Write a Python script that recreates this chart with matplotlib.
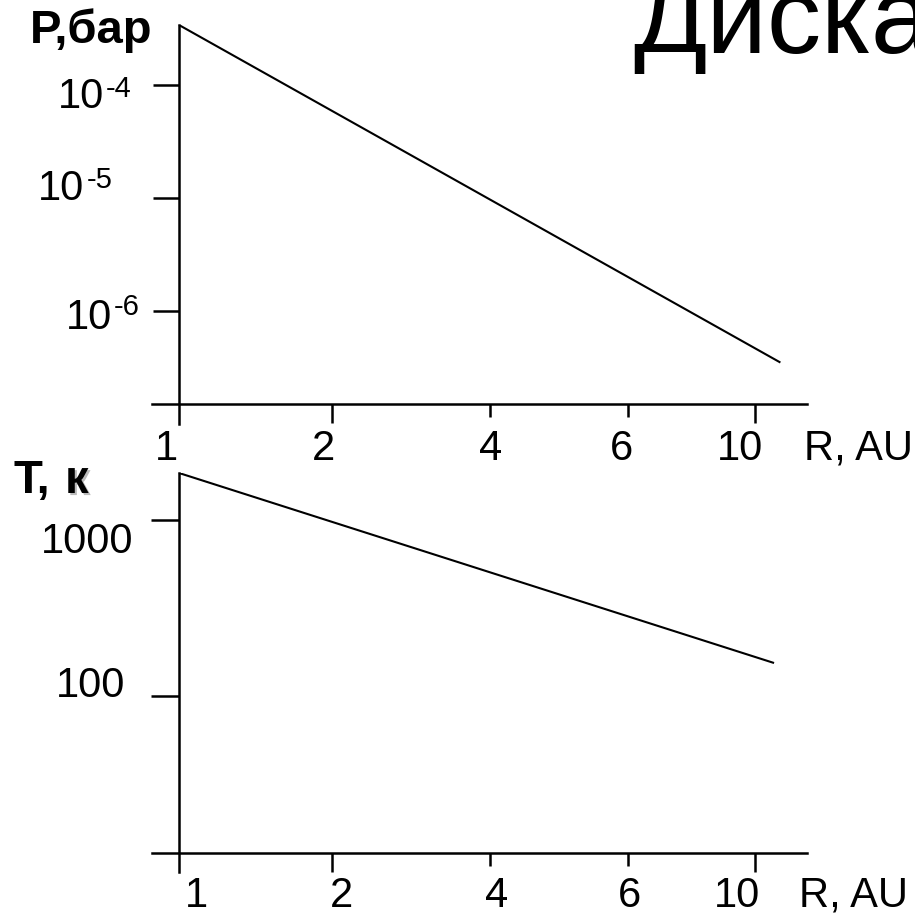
import numpy as np
import matplotlib
matplotlib.use("Agg")
import matplotlib.pyplot as plt
import matplotlib.patheffects as pe
from matplotlib.ticker import FixedLocator, NullLocator, NullFormatter

plt.rcParams['font.family'] = ['Liberation Sans', 'DejaVu Sans']

# ---- data -------------------------------------------------------------
R_TICKS = [1, 2, 4, 6, 10]
R_TICK_LABELS = ['1', '2', '4', '6', '10']

# pressure profile, bar
R_P = [1.0, 10.8]
P_BAR = [3.4e-4, 3.5e-7]
P_TICKS = [1e-4, 1e-5, 1e-6]
P_TICK_BASE = ['10', '10', '10']
P_TICK_EXP = ['-4', '-5', '-6']

# temperature profile, K
R_T = [1.0, 10.6]
T_K = [1850, 154]
T_TICKS = [1000, 100]
T_TICK_LABELS = ['1000', '100']

# ---- schematic radial axis: piecewise spacing between labelled radii ----
KNOT_R = np.array(R_TICKS, float)
KNOT_S = np.array([0, 153, 311, 449, 576], float)


def _piecewise(x, xp, fp):
    x = np.asarray(x, float)
    y = np.interp(x, xp, fp)
    lo = (fp[1] - fp[0]) / (xp[1] - xp[0])
    hi = (fp[-1] - fp[-2]) / (xp[-1] - xp[-2])
    y = np.where(x < xp[0], fp[0] + (x - xp[0]) * lo, y)
    y = np.where(x > xp[-1], fp[-1] + (x - xp[-1]) * hi, y)
    return y


def r_fwd(r):
    return _piecewise(r, KNOT_R, KNOT_S)


def r_inv(s):
    return _piecewise(s, KNOT_S, KNOT_R)


W = H = 915
fig = plt.figure(figsize=(W / 100, H / 100), dpi=100)


def px_box(left, top, right, bottom):
    return [left / W, 1 - bottom / H, (right - left) / W, (bottom - top) / H]


AX_LW = 1.8
LINE_LW = 1.5
FS = 30


def setup_panel(ax, ylim, yticks, spine_frac, ytick_len):
    ax.set_xscale('function', functions=(r_fwd, r_inv))
    ax.set_yscale('log')
    ax.set_xlim(float(r_inv(-27)), float(r_inv(628)))
    ax.set_ylim(*ylim)
    ax.patch.set_visible(False)
    for s in ('top', 'right'):
        ax.spines[s].set_visible(False)
    ax.spines['left'].set_position(('data', 1))
    ax.spines['bottom'].set_position(('axes', spine_frac))
    for s in ('left', 'bottom'):
        ax.spines[s].set_linewidth(AX_LW)
    # x ticks: long at 2 and 10, short at 4 and 6
    ax.xaxis.set_major_locator(FixedLocator([2, 10]))
    ax.xaxis.set_minor_locator(FixedLocator([4, 6]))
    ax.xaxis.set_major_formatter(NullFormatter())
    ax.xaxis.set_minor_formatter(NullFormatter())
    ax.tick_params(axis='x', which='major', direction='out', length=13.7,
                   width=AX_LW, top=False)
    ax.tick_params(axis='x', which='minor', direction='out', length=9.2,
                   width=AX_LW, top=False)
    ax.yaxis.set_major_locator(FixedLocator(yticks))
    ax.yaxis.set_minor_locator(NullLocator())
    ax.yaxis.set_major_formatter(NullFormatter())
    ax.tick_params(axis='y', which='major', direction='out', length=ytick_len,
                   width=AX_LW, right=False)


def x_labels(ax, spine_frac, offsets, dy):
    for r, lab, dx in zip(R_TICKS, R_TICK_LABELS, offsets):
        ax.annotate(lab, xy=(r, spine_frac), xycoords=('data', 'axes fraction'),
                    xytext=(dx, dy), textcoords='offset pixels',
                    ha='center', va='baseline', fontsize=FS, annotation_clip=False)


# ---- pressure panel ----------------------------------------------------
axP = fig.add_axes(px_box(152, 25, 807, 424))
spP = 20 / 399
setup_panel(axP, (1e-7, P_BAR[0]), P_TICKS, spP, 18.7)
axP.plot(R_P, P_BAR, color='black', lw=LINE_LW, solid_capstyle='butt')
x_labels(axP, spP, [-13, -9, 1, -6, -15], -56)

base_off = [(-75, -23), (-95, -2), (-67, -18)]
exp_off = [(-73, -12), (-92, 10), (-65, -4)]
for v, b, e, bo, eo in zip(P_TICKS, P_TICK_BASE, P_TICK_EXP, base_off, exp_off):
    axP.annotate(b, xy=(1, v), xycoords='data', xytext=bo,
                 textcoords='offset pixels', ha='right', va='baseline',
                 fontsize=30, annotation_clip=False)
    axP.annotate(e, xy=(1, v), xycoords='data', xytext=eo,
                 textcoords='offset pixels', ha='left', va='baseline',
                 fontsize=21, annotation_clip=False)

axP.annotate('P,бар', xy=(1, 1), xycoords=('data', 'axes fraction'),
             xytext=(-149, -18), textcoords='offset pixels', ha='left',
             va='baseline', fontsize=34, fontweight='bold', annotation_clip=False)
axP.annotate('R, AU', xy=(1, spP), xycoords='axes fraction',
             xytext=(-3, -56), textcoords='offset pixels', ha='left',
             va='baseline', fontsize=FS, annotation_clip=False)

# ---- temperature panel -------------------------------------------------
axT = fig.add_axes(px_box(152, 473, 807, 872))
spT = 19 / 399
setup_panel(axT, (10, T_K[0]), T_TICKS, spT, 20.5)
axT.plot(R_T, T_K, color='black', lw=LINE_LW, solid_capstyle='butt')
x_labels(axT, spT, [17, 10, 7, 1, -18], -54)

for v, lab, (dx, dy) in zip(T_TICKS, T_TICK_LABELS, [(-46, -33), (-54, -1)]):
    axT.annotate(lab, xy=(1, v), xycoords='data', xytext=(dx, dy),
                 textcoords='offset pixels', ha='right', va='baseline',
                 fontsize=FS, annotation_clip=False)

axT.annotate('T,', xy=(1, 1), xycoords=('data', 'axes fraction'),
             xytext=(-166, -20), textcoords='offset pixels', ha='left',
             va='baseline', fontsize=34, fontweight='bold', annotation_clip=False)
axT.annotate('к', xy=(1, 1), xycoords=('data', 'axes fraction'),
             xytext=(-114, -20), textcoords='offset pixels', ha='left',
             va='baseline', fontsize=34, fontweight='bold', annotation_clip=False,
             path_effects=[pe.withSimplePatchShadow(offset=(1.5, -1.5),
                                                    shadow_rgbFace='0.55', alpha=0.6)])
axT.annotate('R, AU', xy=(1, spT), xycoords='axes fraction',
             xytext=(-8, -54), textcoords='offset pixels', ha='left',
             va='baseline', fontsize=FS, annotation_clip=False)

# ---- heading (runs off the top edge of the sheet) -----------------------
fig.text(633 / W, 1 - 53 / H, 'Диска', fontsize=78, ha='left', va='baseline')

fig.savefig('out.png', dpi=100)
